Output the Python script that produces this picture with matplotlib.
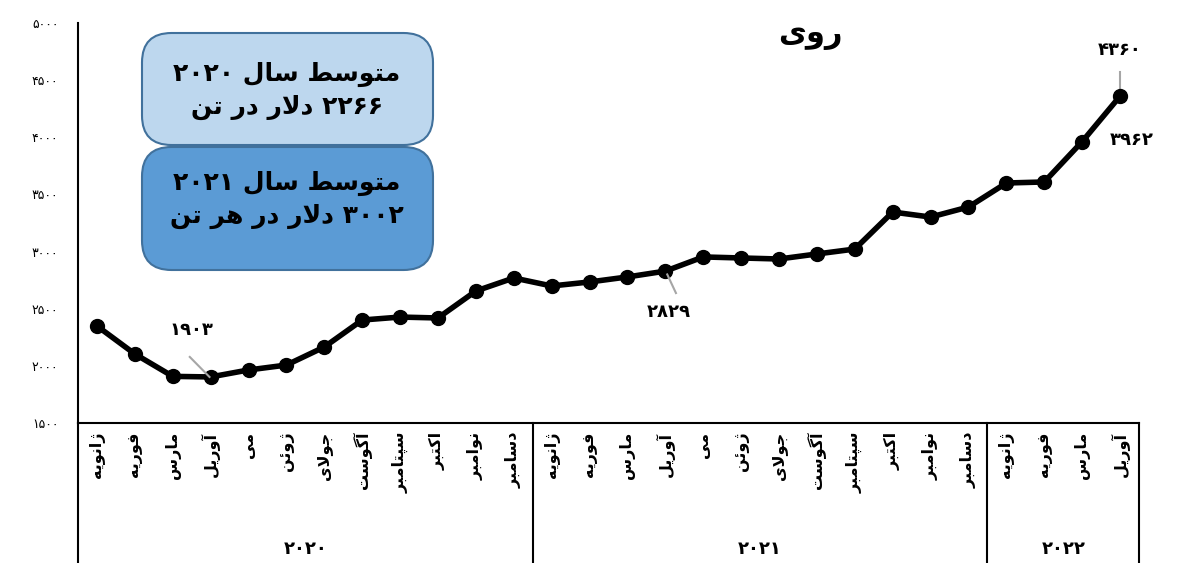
import matplotlib
matplotlib.use("Agg")
import matplotlib.pyplot as plt
from matplotlib.patches import FancyBboxPatch
import matplotlib.transforms as mtransforms

# --- data ---
months = ["ژانویه", "فوریه", "مارس", "آوریل", "می", "ژوئن", "جولای",
          "آگوست", "سپتامبر", "اکتبر", "نوامبر", "دسامبر"]
years = ["2020", "2021", "2022"]
months_per_year = [12, 12, 4]
prices = [2349, 2104, 1908, 1903, 1964, 2007, 2165, 2401, 2427, 2419, 2655, 2769,
          2699, 2734, 2778, 2829, 2953, 2944, 2935, 2979, 3022, 3346, 3302, 3390,
          3600, 3609, 3962, 4360]
y_ticks = [1500, 2000, 2500, 3000, 3500, 4000, 4500, 5000]
title = "روی"
box_texts = ["متوسط سال 2020\n2266 دلار در تن",
             "متوسط سال 2021\n3002 دلار در هر تن"]
labelled = {3: (-0.5, 2314, 1903), 15: (0.1, 2471, 2829),
            27: (0.0, 4764, 4360), 26: (1.3, 3976, 3962)}

# --- minimal persian shaping (matplotlib has no bidi/shaping) ---
FORMS = {
    'ا': ('\uFE8D', '\uFE8E', None, None), 'آ': ('\uFE81', '\uFE82', None, None),
    'ب': ('\uFE8F', '\uFE90', '\uFE91', '\uFE92'), 'پ': ('\uFB56', '\uFB57', '\uFB58', '\uFB59'),
    'ت': ('\uFE95', '\uFE96', '\uFE97', '\uFE98'), 'ج': ('\uFE9D', '\uFE9E', '\uFE9F', '\uFEA0'),
    'د': ('\uFEA9', '\uFEAA', None, None), 'ر': ('\uFEAD', '\uFEAE', None, None),
    'ز': ('\uFEAF', '\uFEB0', None, None), 'ژ': ('\uFB8A', '\uFB8B', None, None),
    'س': ('\uFEB1', '\uFEB2', '\uFEB3', '\uFEB4'), 'ط': ('\uFEC1', '\uFEC2', '\uFEC3', '\uFEC4'),
    'ف': ('\uFED1', '\uFED2', '\uFED3', '\uFED4'), 'ک': ('\uFB8E', '\uFB8F', '\uFB90', '\uFB91'),
    'گ': ('\uFB92', '\uFB93', '\uFB94', '\uFB95'), 'ل': ('\uFEDD', '\uFEDE', '\uFEDF', '\uFEE0'),
    'م': ('\uFEE1', '\uFEE2', '\uFEE3', '\uFEE4'), 'ن': ('\uFEE5', '\uFEE6', '\uFEE7', '\uFEE8'),
    'ه': ('\uFEE9', '\uFEEA', '\uFEEB', '\uFEEC'), 'و': ('\uFEED', '\uFEEE', None, None),
    'ی': ('\uFBFC', '\uFBFD', '\uFBFE', '\uFBFF'), 'ئ': ('\uFE89', '\uFE8A', '\uFE8B', '\uFE8C'),
}
LAMALEF = {'ا': ('\uFEFB', '\uFEFC'), 'آ': ('\uFEF5', '\uFEF6')}
DIGITS = str.maketrans("0123456789", "۰۱۲۳۴۵۶۷۸۹")


def joins_next(c):
    return c in FORMS and FORMS[c][2] is not None


def shape_line(s):
    s = s.translate(DIGITS)
    out = []
    i = 0
    while i < len(s):
        c = s[i]
        prev = s[i - 1] if i > 0 else ''
        nxt = s[i + 1] if i + 1 < len(s) else ''
        if c not in FORMS:
            out.append(c)
            i += 1
            continue
        jp = joins_next(prev)
        if c == 'ل' and nxt in LAMALEF:
            out.append(LAMALEF[nxt][1 if jp else 0])
            i += 2
            continue
        jn = joins_next(c) and nxt in FORMS
        iso, fin, ini, med = FORMS[c]
        if jp and jn:
            out.append(med)
        elif jp:
            out.append(fin)
        elif jn:
            out.append(ini)
        else:
            out.append(iso)
        i += 1
    # visual order: reverse, keep digit runs left-to-right
    tokens = []
    for ch in out:
        if ch in "۰۱۲۳۴۵۶۷۸۹" and tokens and tokens[-1][-1] in "۰۱۲۳۴۵۶۷۸۹":
            tokens[-1] += ch
        else:
            tokens.append(ch)
    return "".join(reversed(tokens))


def fa(s):
    return "\n".join(shape_line(line) for line in s.split("\n"))


plt.rcParams['font.family'] = ['DejaVu Sans']

fig = plt.figure(figsize=(11.79, 5.63), dpi=100)
ax = fig.add_axes([78 / 1179, 1 - 423 / 563, (1139 - 78) / 1179, (423 - 23) / 563])

x = list(range(len(prices)))
ax.plot(x, prices, color='black', lw=4, marker='o', ms=10, solid_joinstyle='round')

ax.set_xlim(-0.5, len(prices) - 0.5)
ax.set_ylim(1500, 5000)
ax.set_yticks(y_ticks)
ax.set_yticklabels([str(v).translate(DIGITS) for v in y_ticks], fontsize=9)
ax.tick_params(axis='y', length=0, pad=14)
ax.set_xticks([])
for s in ['top', 'right']:
    ax.spines[s].set_visible(False)
ax.spines['left'].set_linewidth(1.5)
ax.spines['bottom'].set_linewidth(1.5)

# category table below
trans = mtransforms.blended_transform_factory(ax.transData, ax.transAxes)
bottom = -140 / 400
edges = [0]
for n in months_per_year:
    edges.append(edges[-1] + n)
for e in edges:
    ax.plot([e - 0.5, e - 0.5], [0, bottom], transform=trans, color='black',
            lw=1.5, clip_on=False)
k = 0
for yr, n in zip(years, months_per_year):
    for m in range(n):
        ax.text(k, -0.022, fa(months[m]), transform=trans, rotation=90,
                ha='center', va='top', fontsize=11.5, fontweight='bold')
        k += 1
    ax.text(k - n / 2 - 0.5, -0.315, fa(yr), transform=trans, ha='center',
            va='center', fontsize=13, fontweight='bold')

# point labels
for idx, (dx, ty, val) in labelled.items():
    ax.text(idx + dx, ty, fa(str(val)), ha='center', va='center',
            fontsize=13, fontweight='bold')
ax.plot([2.45, 2.97], [2078, 1903], color='#a6a6a6', lw=1.5)
ax.plot([15.05, 15.28], [2800, 2637], color='#a6a6a6', lw=1.5)
ax.plot([27.0, 27.0], [4370, 4571], color='#a6a6a6', lw=1.5, zorder=1)

fig.text(810 / 1179, 1 - 35 / 563, fa(title), ha='center', va='center',
         fontsize=22, fontweight='bold')

# summary boxes
box_style = [('#bdd7ee', 33, 145, 91), ('#5b9bd5', 147, 270, 200)]
for (fc, top, bot, mid), txt in zip(box_style, box_texts):
    b = FancyBboxPatch((142 / 1179, 1 - bot / 563), (433 - 142) / 1179, (bot - top) / 563,
                       boxstyle="round,pad=0,rounding_size=0.025",
                       transform=fig.transFigure, facecolor=fc,
                       edgecolor='#41719c', lw=1.5, mutation_aspect=1179 / 563)
    fig.patches.append(b)
    fig.text(287 / 1179, 1 - mid / 563, fa(txt), ha='center',
             va='center', fontsize=18, fontweight='bold', linespacing=1.45)

fig.savefig("out.png", dpi=100)
